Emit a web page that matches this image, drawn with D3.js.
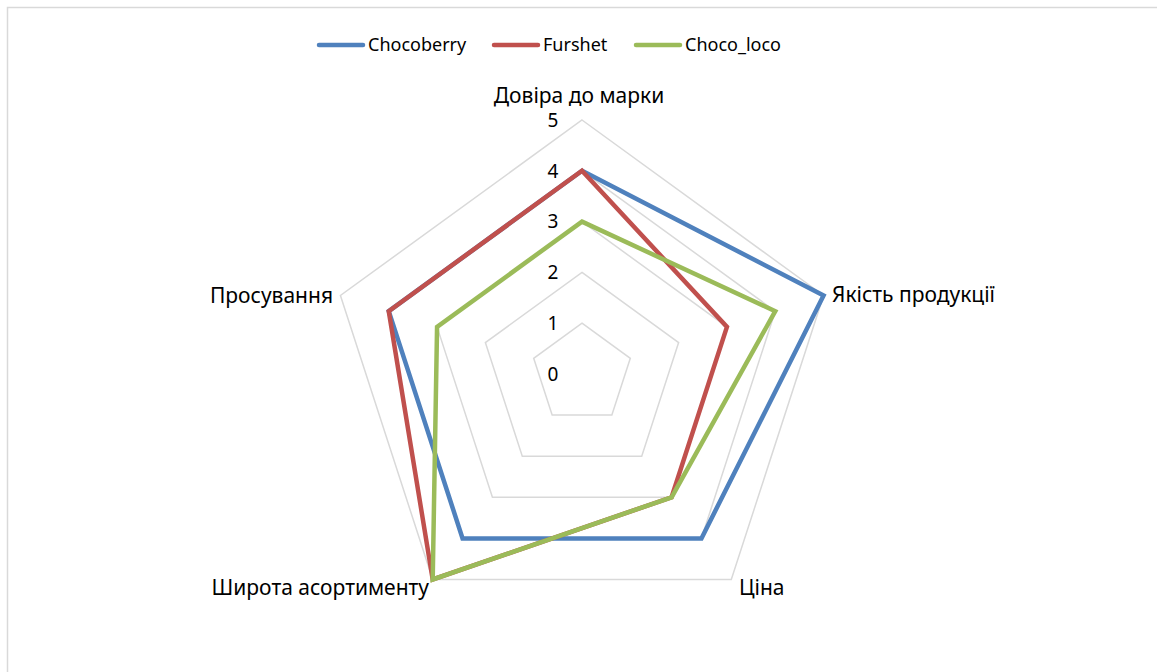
<!DOCTYPE html>
<html>
<head>
<meta charset="utf-8">
<script src="https://cdn.jsdelivr.net/npm/d3@7/dist/d3.min.js"></script>
<style>
  html, body { margin: 0; padding: 0; background: #fff; }
  svg { display: block; font-family: "Noto Sans", "Open Sans", sans-serif; }
</style>
</head>
<body>
<svg id="chart" width="1157" height="672"></svg>
<script>
// Radar axes (clockwise from the top)
const categories = ["Довіра до марки", "Якість продукції", "Ціна", "Широта асортименту", "Просування"];

// Scores per brand, in category order
const chocoberry = [4, 5, 4, 4, 4];
const furshet    = [4, 3, 3, 5, 4];
const chocoLoco  = [3, 4, 3, 5, 3];

const seriesNames  = ["Chocoberry", "Furshet", "Choco_loco"];
const seriesColors = ["#4f81bd", "#c0504d", "#9bbb59"];

const tickValues = [0, 1, 2, 3, 4, 5];

const series = [
  { name: seriesNames[0], values: chocoberry, color: seriesColors[0] },
  { name: seriesNames[1], values: furshet,    color: seriesColors[1] },
  { name: seriesNames[2], values: chocoLoco,  color: seriesColors[2] }
];

const svg = d3.select("#chart");
const cx = 582, cy = 374, R = 254;

// Chart frame
svg.append("rect")
  .attr("x", 7.5).attr("y", 7.5)
  .attr("width", 1200).attr("height", 700)
  .attr("fill", "none").attr("stroke", "#d9d9d9").attr("stroke-width", 1.5);

const r = d3.scaleLinear().domain([0, 5]).range([0, R]);
const angle = d3.scalePoint().domain(categories).range([0, 2 * Math.PI * (categories.length - 1) / categories.length]);

const pt = (cat, v) => {
  const a = angle(cat);
  return [cx + r(v) * Math.sin(a), cy - r(v) * Math.cos(a)];
};

const line = d3.line().curve(d3.curveLinearClosed);

// Grid rings
const g = svg.append("g");
g.selectAll("path.ring")
  .data(tickValues.filter(t => t > 0))
  .join("path")
  .attr("class", "ring")
  .attr("d", t => line(categories.map(c => pt(c, t))))
  .attr("fill", "none")
  .attr("stroke", "#d9d9d9")
  .attr("stroke-width", 1.5);

// Value ticks along the top axis
g.selectAll("text.tick")
  .data(tickValues)
  .join("text")
  .attr("class", "tick")
  .attr("x", cx - 29)
  .attr("y", t => cy - r(t))
  .attr("dy", "0.36em")
  .attr("text-anchor", "middle")
  .attr("font-size", 19)
  .attr("fill", "#000")
  .text(d => d);

// Series polygons
svg.append("g").selectAll("path.series")
  .data(series)
  .join("path")
  .attr("class", "series")
  .attr("d", s => line(categories.map((c, i) => pt(c, s.values[i]))))
  .attr("fill", "none")
  .attr("stroke", s => s.color)
  .attr("stroke-width", 4.5)
  .attr("stroke-linejoin", "miter");

// Category labels
const labelPos = [
  { x: 579, y: 95, anchor: "middle" },
  { x: 832, y: 294, anchor: "start" },
  { x: 739, y: 587, anchor: "start" },
  { x: 429, y: 587, anchor: "end" },
  { x: 333, y: 295, anchor: "end" }
];
svg.append("g").selectAll("text.cat")
  .data(categories)
  .join("text")
  .attr("class", "cat")
  .attr("x", (d, i) => labelPos[i].x)
  .attr("y", (d, i) => labelPos[i].y)
  .attr("dy", "0.36em")
  .attr("text-anchor", (d, i) => labelPos[i].anchor)
  .attr("font-size", 21)
  .attr("fill", "#000")
  .text(d => d);

// Legend
const legendX = [317, 492, 634];
const lg = svg.append("g").selectAll("g.item")
  .data(series)
  .join("g")
  .attr("class", "item")
  .attr("transform", (d, i) => `translate(${legendX[i]},45)`);
lg.append("line")
  .attr("x1", 2).attr("x2", 46)
  .attr("stroke", d => d.color)
  .attr("stroke-width", 4.5)
  .attr("stroke-linecap", "round");
lg.append("text")
  .attr("x", 51)
  .attr("dy", "0.36em")
  .attr("font-size", 18)
  .attr("fill", "#000")
  .text(d => d.name);
</script>
</body>
</html>
